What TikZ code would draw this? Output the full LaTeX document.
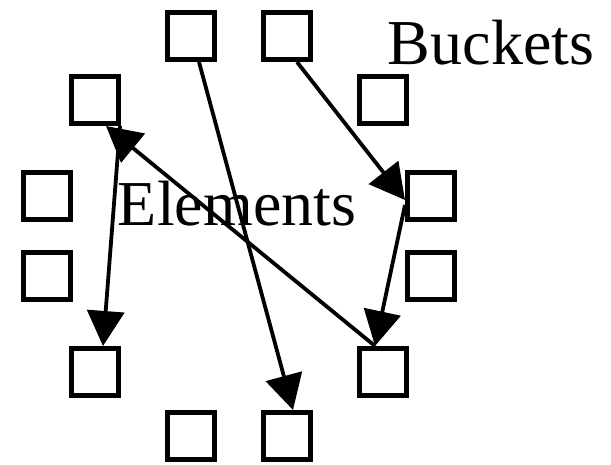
\documentclass[tikz,border=0pt]{standalone}
\usepackage{fontspec}
\setmainfont{Liberation Serif}
\usepackage{tikz}
\usetikzlibrary{arrows.meta}

\begin{document}
\begin{tikzpicture}[
  x=1pt,y=-1pt,
  bucket/.style={rectangle,draw=black,line width=5pt,minimum size=47pt,inner sep=0pt,fill=white},
  lbl/.style={anchor=base,inner sep=0pt,font=\fontsize{64}{70}\selectfont},
  arr/.style={-{Triangle[length=35pt,width=37pt]},line width=3.8pt}
]
\useasboundingbox (0,0) rectangle (611,465);
% twelve buckets round a circle
\node[bucket] (b1) at (191,36) {};
\node[bucket] (b2) at (287,36) {};
\node[bucket] (b3) at (383,100) {};
\node[bucket] (b4) at (431,196) {};
\node[bucket] (b5) at (431,276) {};
\node[bucket] (b6) at (383,372) {};
\node[bucket] (b7) at (287,436) {};
\node[bucket] (b8) at (191,436) {};
\node[bucket] (b9) at (95,372) {};
\node[bucket] (b10) at (47,276) {};
\node[bucket] (b11) at (47,196) {};
\node[bucket] (b12) at (95,100) {};
\node[lbl] (buckets) at (491,65) {Buckets};
\node[lbl] (elements) at (237,226) {Elements};
% chained elements
\draw[arr] ([xshift=10pt]b2.south) -- ([yshift=-4pt]b4.west);
\draw[arr] ([yshift=-9pt]b4.west) -- ([xshift=-8pt]b6.north);
\draw[arr] ([xshift=-8pt]b6.north) -- ([xshift=11pt]b12.south);
\draw[arr] ([xshift=-1pt]b12.south east) -- ([xshift=8pt]b9.north);
\draw[arr] ([xshift=8pt]b1.south) -- ([xshift=6pt]b7.north);
\end{tikzpicture}
\end{document}
